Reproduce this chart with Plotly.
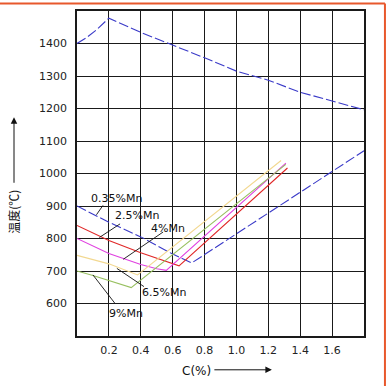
import plotly.graph_objects as go

# ---- data (C %, temperature degC) ----
liq_c = [0, 0.06, 0.12, 0.2, 0.4, 0.6, 0.8, 1.0, 1.2, 1.4, 1.6, 1.8]
liq_t = [1400, 1418, 1441, 1478, 1434, 1396, 1356, 1315, 1287, 1250, 1224, 1196]

mn035_c = [0, 0.2, 0.4, 0.6, 0.72, 1.8]
mn035_t = [900, 850, 805, 752, 725, 1070]

mn25_c = [0, 0.2, 0.4, 0.55, 0.64, 1.32]
mn25_t = [840, 794, 756, 730, 716, 1017]

mn4_c = [0, 0.2, 0.4, 0.5, 0.56, 1.31]
mn4_t = [800, 754, 720, 707, 702, 1032]

mn65_c = [0, 0.2, 0.38, 1.28]
mn65_t = [748, 722, 688, 1040]

mn9_c = [0, 0.1, 0.34, 1.31]
mn9_t = [700, 686, 649, 1028]

labels = ["0.35%Mn", "2.5%Mn", "4%Mn", "6.5%Mn", "9%Mn"]
label_c = [0.25, 0.375, 0.57, 0.545, 0.306]
label_t = [923, 871, 831, 633, 568]
lead_c = [[0.163, 0.122], [0.27, 0.14], [0.54, 0.29], [0.42, 0.25], [0.237, 0.10]]
lead_t = [[902, 873], [845, 803], [820, 736], [652, 708], [601, 688]]

x_ticks = [0.2, 0.4, 0.6, 0.8, 1.0, 1.2, 1.4, 1.6]
y_ticks = [600, 700, 800, 900, 1000, 1100, 1200, 1300, 1400]

fig = go.Figure()

blue = "#3a3ac8"
fig.add_trace(go.Scatter(x=liq_c, y=liq_t, mode="lines",
                         line=dict(color=blue, width=1.1, dash="10px,3px")))
fig.add_trace(go.Scatter(x=mn035_c, y=mn035_t, mode="lines",
                         line=dict(color=blue, width=1.1, dash="10px,3px")))
fig.add_trace(go.Scatter(x=mn25_c, y=mn25_t, mode="lines",
                         line=dict(color="#e02828", width=1.1)))
fig.add_trace(go.Scatter(x=mn4_c, y=mn4_t, mode="lines",
                         line=dict(color="#e040e0", width=1.1)))
fig.add_trace(go.Scatter(x=mn65_c, y=mn65_t, mode="lines",
                         line=dict(color="#f2d890", width=1.1)))
fig.add_trace(go.Scatter(x=mn9_c, y=mn9_t, mode="lines",
                         line=dict(color="#98c060", width=1.1)))

for lc, lt in zip(lead_c, lead_t):
    fig.add_trace(go.Scatter(x=lc, y=lt, mode="lines",
                             line=dict(color="#111111", width=0.9)))

for txt, cx, ty in zip(labels, label_c, label_t):
    fig.add_annotation(x=cx, y=ty, text=txt, showarrow=False,
                       xanchor="center", yanchor="middle",
                       font=dict(family="DejaVu Sans", size=11, color="#111111"))

# axis titles with arrows
fig.add_annotation(xref="paper", yref="paper", x=-0.2195, y=0.382,
                   xanchor="center", yanchor="middle",
                   text="温度(℃)", textangle=-90, showarrow=False,
                   font=dict(family="Noto Sans CJK SC", size=12, color="#111111"))
fig.add_annotation(xref="paper", yref="paper", x=-0.2195, y=0.673, text="",
                   showarrow=True, ax=0, ay=67, arrowhead=2, arrowsize=1.3,
                   arrowwidth=1, arrowcolor="#111111")
fig.add_annotation(xref="paper", yref="paper", x=0.415, y=-0.107,
                   xanchor="center", yanchor="middle",
                   text="C(%)", showarrow=False,
                   font=dict(family="DejaVu Sans", size=12, color="#111111"))
fig.add_annotation(xref="paper", yref="paper", x=0.679, y=-0.104, text="",
                   showarrow=True, ax=-59, ay=0, arrowhead=2, arrowsize=1.3,
                   arrowwidth=1, arrowcolor="#111111")

# orange frame of the picture (top and right edges)
fig.add_shape(type="line", xref="paper", yref="paper",
              x0=-0.27, x1=1.073, y0=1.023, y1=1.023,
              line=dict(color="#e8582c", width=2))
fig.add_shape(type="line", xref="paper", yref="paper",
              x0=1.073, x1=1.073, y0=-0.16, y1=1.023,
              line=dict(color="#e8582c", width=2))

fig.update_layout(
    width=387, height=386,
    margin=dict(l=77, r=23, t=9, b=50),
    paper_bgcolor="white", plot_bgcolor="white",
    showlegend=False,
    font=dict(family="DejaVu Sans", size=11, color="#222222"),
)
fig.update_xaxes(range=[0, 1.8], tickvals=x_ticks,
                 ticktext=[f"{v:.1f}" for v in x_ticks],
                 showgrid=True, gridcolor="#1a1a1a", gridwidth=1.3,
                 showline=True, linecolor="#1a1a1a", linewidth=1.5, mirror=True,
                 zeroline=False, ticks="", ticklabelstandoff=3)
fig.update_yaxes(range=[500, 1500], tickvals=y_ticks,
                 showgrid=True, gridcolor="#1a1a1a", gridwidth=1.3,
                 showline=True, linecolor="#1a1a1a", linewidth=1.5, mirror=True,
                 zeroline=False, ticks="", ticklabelstandoff=6)

fig.write_html("out.html",
               config={"displayModeBar": False},
               post_script="document.body.style.margin='0px';document.body.style.overflow='hidden';")
